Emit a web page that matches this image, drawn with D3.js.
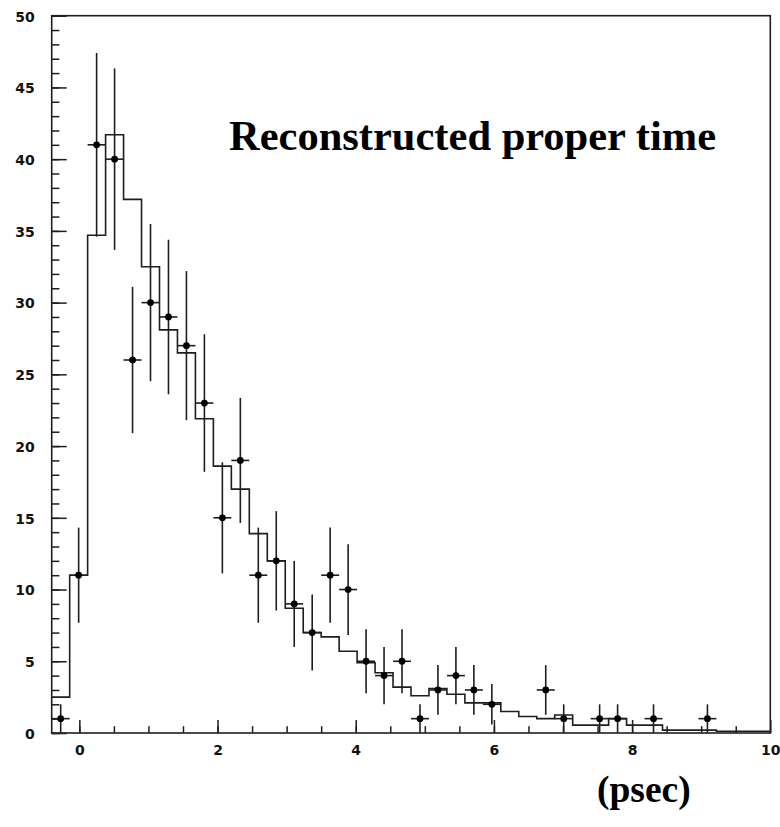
<!DOCTYPE html>
<html>
<head>
<meta charset="utf-8">
<script src="https://cdn.jsdelivr.net/npm/d3@7"></script>
<style>
  html, body { margin: 0; padding: 0; background: #fff; }
  svg { display: block; }
</style>
</head>
<body>
<svg id="chart" width="780" height="827"></svg>
<script>
// ---- data ----
const binCenters = [-0.27, -0.01, 0.25, 0.51, 0.77, 1.03, 1.29, 1.55, 1.81, 2.07,
                    2.33, 2.59, 2.85, 3.11, 3.37, 3.63, 3.89, 4.15, 4.41, 4.67,
                    4.93, 5.19, 5.45, 5.71, 5.97, 6.23, 6.49, 6.75, 7.01, 7.27,
                    7.53, 7.79, 8.05, 8.31, 8.57, 8.83, 9.09, 9.35, 9.61, 9.87];
const binWidth = 0.26;
const dataCounts = [1, 11, 41, 40, 26, 30, 29, 27, 23, 15,
                    19, 11, 12, 9, 7, 11, 10, 5, 4, 5,
                    1, 3, 4, 3, 2, 0, 0, 3, 1, 0,
                    1, 1, 0, 1, 0, 0, 1, 0, 0, 0];
const mcValues = [2.5, 11.0, 34.7, 41.7, 37.2, 32.5, 28.1, 26.5, 21.9, 18.6,
                  17.0, 13.9, 12.0, 8.7, 7.0, 6.7, 5.7, 4.9, 4.2, 3.2,
                  2.6, 3.1, 2.7, 2.1, 2.1, 1.5, 1.15, 1.0, 1.25, 0.55,
                  0.55, 1.0, 0.55, 0.55, 0.2, 0.2, 0.2, 0.12, 0.12, 0.12];
const xMajorTicks = [0, 2, 4, 6, 8, 10];
const xMinorTicks = [0, 0.5, 1, 1.5, 2, 2.5, 3, 3.5, 4, 4.5, 5, 5.5, 6, 6.5, 7, 7.5, 8, 8.5, 9, 9.5];
const yMajorTicks = [0, 5, 10, 15, 20, 25, 30, 35, 40, 45, 50];
const yMinorTicks = d3.range(0, 51, 1);
const titleText = "Reconstructed proper time";
const unitText = "(psec)";
const xDomain = [-0.4, 10];
const yDomain = [0, 50];

// ---- layout ----
const L = 51.7, R = 770.3, T = 15.7, B = 733;
const ink = "#1e1e1e";
const svg = d3.select("#chart");
const x = d3.scaleLinear().domain(xDomain).range([L, R]);
const y = d3.scaleLinear().domain(yDomain).range([B, T]);

const tickFont = "bold 14px 'DejaVu Sans', 'Liberation Sans', sans-serif";

const yMinor = svg.append("g").attr("transform", `translate(${L},0)`)
  .call(d3.axisLeft(y).tickValues(yMinorTicks).tickSize(-7.7).tickFormat(""));
const yMajor = svg.append("g").attr("transform", `translate(${L},0)`)
  .call(d3.axisLeft(y).tickValues(yMajorTicks).tickSize(-15).tickPadding(17).tickFormat(d3.format("d")));
const xMinor = svg.append("g").attr("transform", `translate(0,${B})`)
  .call(d3.axisBottom(x).tickValues(xMinorTicks).tickSize(-6.8).tickFormat(""));
const xMajor = svg.append("g").attr("transform", `translate(0,${B})`)
  .call(d3.axisBottom(x).tickValues(xMajorTicks).tickSize(-13).tickPadding(12).tickFormat(d3.format("d")));

[yMinor, yMajor, xMinor, xMajor].forEach(g => {
  g.select(".domain").remove();
  g.selectAll(".tick line").attr("stroke", ink).attr("stroke-width", 1.5);
  g.selectAll(".tick text").attr("fill", "#111").style("font", tickFont);
});
yMajor.selectAll(".tick text").attr("dy", "0.38em");

// frame
svg.append("rect")
  .attr("x", x(xDomain[0])).attr("y", y(yDomain[1]))
  .attr("width", x(xDomain[1]) - x(xDomain[0]))
  .attr("height", y(yDomain[0]) - y(yDomain[1]))
  .attr("fill", "none").attr("stroke", ink).attr("stroke-width", 1.6);

// MC histogram (step)
const stepPts = binCenters.map((c, i) => [c - binWidth / 2, mcValues[i]]);
stepPts.push([binCenters[binCenters.length - 1] + binWidth / 2, mcValues[mcValues.length - 1]]);
svg.append("path")
  .attr("d", d3.line().x(d => x(d[0])).y(d => y(d[1])).curve(d3.curveStepAfter)(stepPts))
  .attr("fill", "none").attr("stroke", ink).attr("stroke-width", 1.6);

// data points with Poisson errors
const pts = binCenters.map((c, i) => ({ c, n: dataCounts[i] })).filter(d => d.n > 0);
const g = svg.append("g");
g.selectAll("line.v").data(pts).join("line")
  .attr("x1", d => x(d.c)).attr("x2", d => x(d.c))
  .attr("y1", d => y(Math.max(0, d.n - Math.sqrt(d.n))))
  .attr("y2", d => y(d.n + Math.sqrt(d.n)))
  .attr("stroke", ink).attr("stroke-width", 1.6);
g.selectAll("line.h").data(pts).join("line")
  .attr("x1", d => x(d.c - binWidth / 2)).attr("x2", d => x(d.c + binWidth / 2))
  .attr("y1", d => y(d.n)).attr("y2", d => y(d.n))
  .attr("stroke", ink).attr("stroke-width", 1.6);
g.selectAll("circle").data(pts).join("circle")
  .attr("cx", d => x(d.c)).attr("cy", d => y(d.n)).attr("r", 3.4)
  .attr("fill", "#000");

// texts
svg.append("text").attr("x", 229).attr("y", 150)
  .style("font", "bold 42.5px 'Liberation Serif', 'Times New Roman', serif")
  .attr("fill", "#000").text(titleText);
svg.append("text").attr("x", 597).attr("y", 802)
  .style("font", "bold 37.5px 'Liberation Serif', 'Times New Roman', serif")
  .attr("fill", "#000").text(unitText);
</script>
</body>
</html>
